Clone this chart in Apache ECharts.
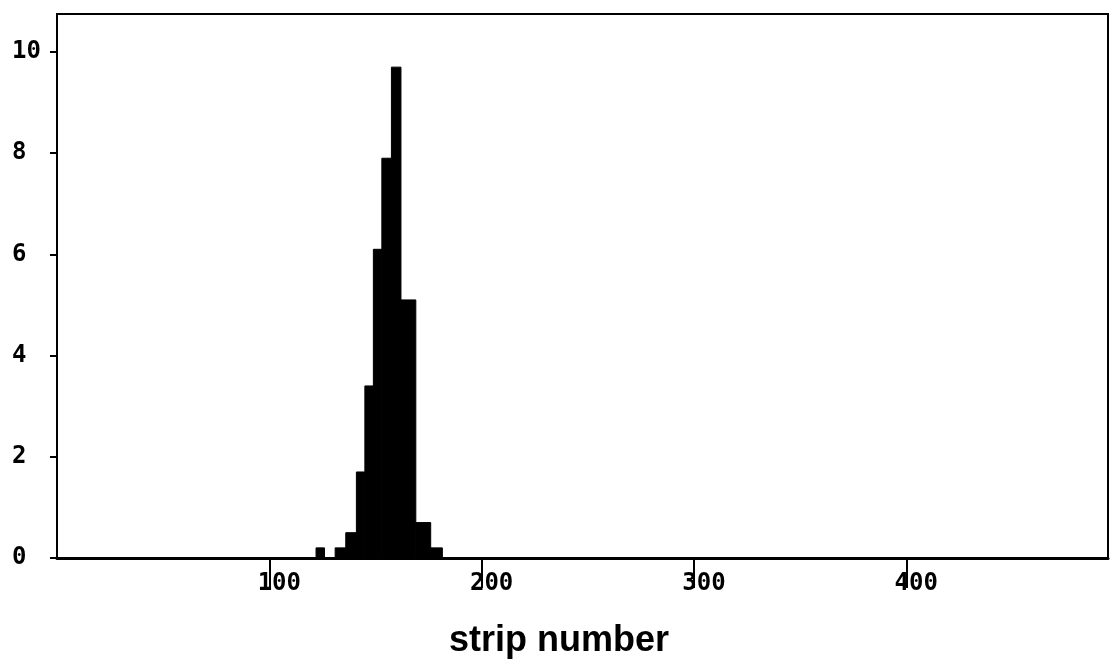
<!DOCTYPE html>
<html>
<head>
<meta charset="utf-8">
<script src="https://cdn.jsdelivr.net/npm/echarts@6/dist/echarts.min.js"></script>
<style>
  html, body { margin: 0; padding: 0; background: #fff; }
  #chart { width: 1112px; height: 671px; }
</style>
</head>
<body>
<div id="chart"></div>
<script>
// histogram bins (strip number) and counts
var binStart = [122, 131, 136, 141, 145, 149, 153, 157.5, 162, 169, 176];
var binEnd   = [126, 136, 141, 145, 149, 153, 157.5, 162, 169, 176, 181.5];
var counts   = [0.2, 0.2, 0.5, 1.7, 3.4, 6.1, 7.9, 9.7, 5.1, 0.7, 0.2];
var xTicks = [100, 200, 300, 400];
var yTicks = [0, 2, 4, 6, 8, 10];

var chart = echarts.init(document.getElementById('chart'), null, { renderer: 'canvas' });

var data = [];
for (var i = 0; i < counts.length; i++) {
  data.push([binStart[i], binEnd[i], counts[i]]);
}

function renderBar(params, api) {
  var p0 = api.coord([api.value(0), api.value(2)]);
  var p1 = api.coord([api.value(1), 0]);
  return {
    type: 'rect',
    shape: { x: p0[0], y: p0[1], width: p1[0] - p0[0], height: p1[1] - p0[1] },
    style: { fill: '#000', stroke: '#000', lineWidth: 1 }
  };
}

var option = {
  animation: false,
  title: {
    text: 'strip number',
    left: 444,
    top: 618,
    textStyle: {
      fontFamily: 'Liberation Sans',
      fontWeight: 'bold',
      fontSize: 36,
      color: '#000'
    }
  },
  grid: {
    left: 57,
    right: 4,
    top: 14,
    bottom: 113,
    show: true,
    borderColor: '#000',
    borderWidth: 2,
    backgroundColor: '#fff'
  },
  xAxis: {
    type: 'value',
    min: 0,
    max: 495,
    interval: 100,
    axisLine: { show: true, onZero: false, lineStyle: { color: '#000', width: 3 } },
    axisTick: { show: true, length: 30, lineStyle: { color: '#000', width: 2 } },
    splitLine: { show: false },
    axisLabel: {
      color: '#000',
      margin: 14,
      showMinLabel: false,
      showMaxLabel: false,
      formatter: function (v) { return xTicks.indexOf(v) >= 0 ? '{a|' + v + '}' : ''; },
      rich: {
        a: {
          fontFamily: 'DejaVu Sans Mono',
          fontWeight: 'bold',
          fontSize: 24,
          color: '#000',
          padding: [0, 0, 0, 20]
        }
      }
    }
  },
  yAxis: {
    type: 'value',
    min: 0,
    max: 10.75,
    interval: 2,
    axisLine: { show: true, lineStyle: { color: '#000', width: 2 } },
    axisTick: { show: true, length: 7, lineStyle: { color: '#000', width: 2 } },
    splitLine: { show: false },
    axisLabel: {
      fontFamily: 'DejaVu Sans Mono',
      fontWeight: 'bold',
      fontSize: 24,
      color: '#000',
      margin: 45,
      align: 'left',
      showMaxLabel: false,
      formatter: function (v) { return yTicks.indexOf(v) >= 0 ? String(v) : ''; }
    }
  },
  series: [{
    type: 'custom',
    renderItem: renderBar,
    encode: { x: [0, 1], y: 2 },
    data: data
  }]
};
chart.setOption(option);
</script>
</body>
</html>
